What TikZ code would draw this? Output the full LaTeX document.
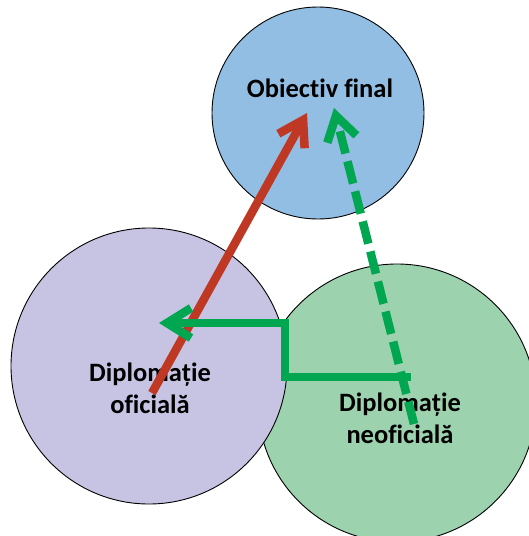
\documentclass[tikz,border=0pt]{standalone}
\usepackage{fontspec}
\setmainfont[Ligatures=NoCommon]{Carlito}
\usetikzlibrary{arrows.meta}
\definecolor{goalblue}{RGB}{147,190,228}
\definecolor{officialpurple}{RGB}{198,196,226}
\definecolor{unofficialgreen}{RGB}{156,211,174}
\definecolor{arrowred}{RGB}{191,56,36}
\definecolor{arrowgreen}{RGB}{0,166,80}
\tikzstyle{sphere} = [circle, draw=black, line width=0.9pt, inner sep=0pt]
\tikzstyle{circletext} = [font=\bfseries\fontsize{26.5}{32}\selectfont, align=center, text=black]
\tikzstyle{redarrow} = [line width=8.5pt, draw=arrowred, -{Straight Barb[length=24pt, width=30pt, sharp]}]
\tikzstyle{greenarrow} = [line width=8.5pt, draw=arrowgreen, line join=miter, -{Straight Barb[length=24pt, width=30pt, sharp]}]
\tikzstyle{greendashed} = [greenarrow, dash pattern=on 23pt off 8pt]

\begin{document}
\begin{tikzpicture}[x=1pt, y=-1pt]
    \useasboundingbox (0,0) rectangle (529,536);
    \clip (0,0) rectangle (529,536);
    \node (neoficiala) [sphere, fill=unofficialgreen, minimum size=278pt] at (397,403) {};
    \node (oficiala) [sphere, fill=officialpurple, minimum size=276pt] at (149,366) {};
    \node (obiectiv) [sphere, fill=goalblue, minimum size=212pt] at (318,113) {};
    \node (obiectivtext) [circletext] at (320,88) {Obiectiv final};
    \node (oficialatext) [circletext] at (150,388) {Diplomație\\oficială};
    \node (neoficialatext) [circletext] at (400,418) {Diplomație\\neoficială};

    \coordinate (redtail) at (152,393);
    \coordinate (redtip) at (307,113);
    \coordinate (dashtail) at (414,424);
    \coordinate (dashtip) at (334,108);
    \coordinate (elbowstart) at (411,377);
    \coordinate (elbowcorner) at (285,323);
    \coordinate (elbowtip) at (159,323);

    \draw [redarrow] (redtail) -- (redtip);
    \draw [greendashed] (dashtail) -- (dashtip);
    \draw [greenarrow] (elbowstart) -| (elbowcorner) -- (elbowtip);
\end{tikzpicture}
\end{document}
